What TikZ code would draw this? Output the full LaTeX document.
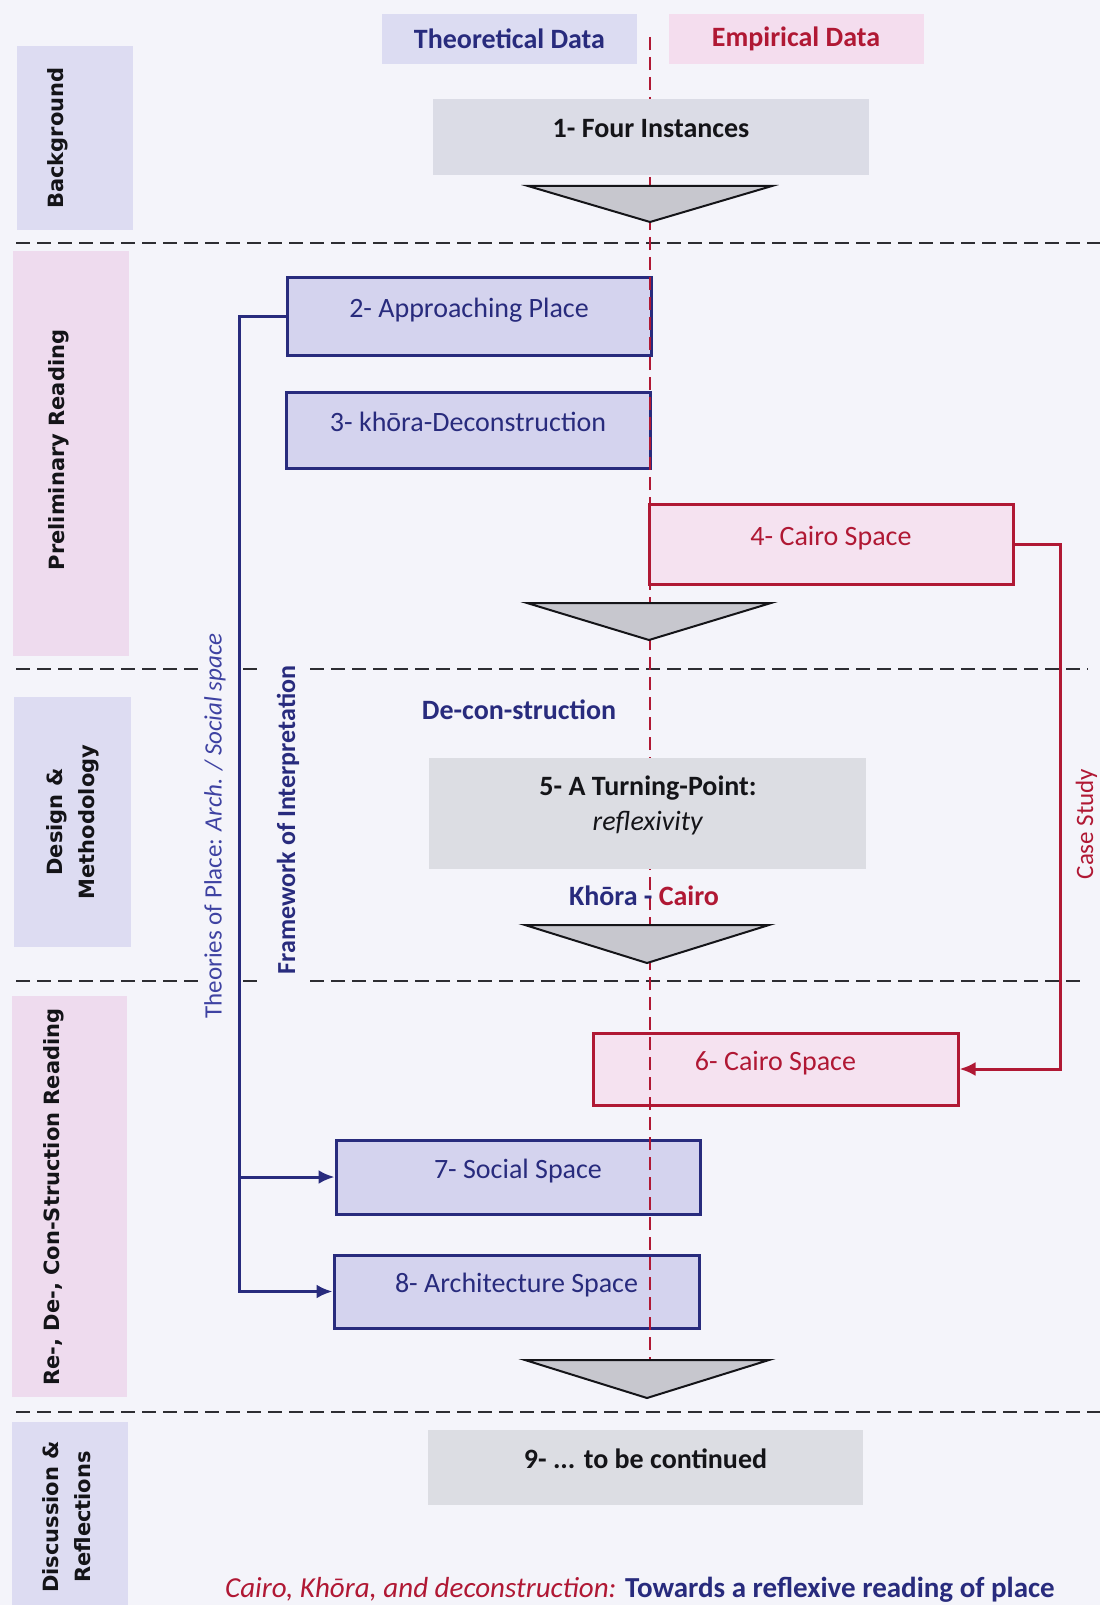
\documentclass[tikz,border=0pt]{standalone}
\usepackage{fontspec}
\setmainfont{Carlito}
\newfontfamily\labfont{DejaVu Sans}
\usetikzlibrary{arrows.meta}

\definecolor{pagebg}{RGB}{244,244,250}
\definecolor{lavsec}{RGB}{221,220,242}
\definecolor{pinksec}{RGB}{238,219,238}
\definecolor{navy}{RGB}{40,43,125}
\definecolor{midblue}{RGB}{62,66,162}
\definecolor{crim}{RGB}{176,24,52}
\definecolor{bluefill}{RGB}{212,211,238}
\definecolor{redfill}{RGB}{245,226,240}
\definecolor{grayfill}{RGB}{219,220,230}
\definecolor{grayfillb}{RGB}{220,221,227}
\definecolor{thfill}{RGB}{220,220,242}
\definecolor{emfill}{RGB}{244,221,238}
\definecolor{trifill}{RGB}{199,199,206}
\definecolor{sepgray}{RGB}{45,45,50}
\definecolor{ink}{RGB}{20,20,24}

\begin{document}
\begin{tikzpicture}[x=1pt,y=-1pt,
  nodefont/.style={font=\fontsize{28}{34}\selectfont},
  boxbase/.style={nodefont, inner sep=0pt, text height=14pt, text depth=12pt},
  bluebox/.style={boxbase, draw=navy, line width=3pt, fill=bluefill, text=navy, minimum width=364pt},
  redbox/.style={bluebox, draw=crim, fill=redfill, text=crim},
  graybox/.style={boxbase, fill=grayfill, text=ink, minimum width=436pt, font=\fontsize{28}{34}\selectfont\bfseries},
  databox/.style={inner sep=0pt, minimum width=255pt, minimum height=50pt, font=\fontsize{28}{34}\selectfont\bfseries},
  seclabel/.style={rotate=90, align=center, text=ink, font=\labfont\bfseries\fontsize{21}{32}\selectfont},
  tri/.style={fill=trifill, draw=ink, line width=2pt, line join=miter},
  sepline/.style={draw=sepgray, line width=2.5pt, dash pattern=on 14pt off 7pt},
  axisline/.style={draw=crim, line width=2pt, dash pattern=on 13pt off 7pt},
  bluelink/.style={draw=navy, line width=3pt},
  redlink/.style={draw=crim, line width=3pt},
  tip/.style={-{Latex[length=16pt,width=14pt]}}
]
\useasboundingbox (0,0) rectangle (1100,1605);
\clip (0,0) rectangle (1100,1605);
\fill[pagebg] (0,0) rectangle (1100,1605);

% phase bands on the left
\fill[lavsec]  (17,46)   rectangle (133,230);
\fill[pinksec] (13,251)  rectangle (129,656);
\fill[lavsec]  (14,697)  rectangle (131,947);
\fill[pinksec] (12,996)  rectangle (127,1397);
\fill[lavsec]  (12,1422) rectangle (128,1605);

\node[seclabel] (secA) at (58,138)  {Background};
\node[seclabel] (secB) at (59,450)  {Preliminary Reading};
\node[seclabel] (secC) at (73,822)  {Design \&\\Methodology};
\node[seclabel] (secD) at (54,1197) {Re-, De-, Con-Struction Reading};
\node[seclabel] (secE) at (67,1517) {Discussion \&\\Reflections};

% column headers
\node[databox, fill=thfill, text=navy] (theo) at (509.5,39) {Theoretical Data};
\node[databox, fill=emfill, text=crim] (emp)  at (796,39)   {Empirical Data};

% phase separators
\draw[sepline] (16,243) -- (1100,243);
\draw[sepline] (16,669) -- (199,669);
\draw[sepline] (243,669) -- (262,669);
\draw[sepline] (310,669) -- (1088,669);
\draw[sepline] (16,981) -- (199,981);
\draw[sepline] (243,981) -- (262,981);
\draw[sepline] (310,981) -- (1085,981);
\draw[sepline] (16,1412) -- (1100,1412);

% coloured steps
\node[bluebox, minimum height=78pt] (n2) at (469,316)    {2- Approaching Place};
\node[bluebox, minimum height=76pt] (n3) at (468,430)    {3- khōra-Deconstruction};
\node[redbox,  minimum height=80pt] (n4) at (831,544)    {4- Cairo Space};
\node[redbox,  minimum height=72pt, minimum width=365pt] (n6) at (775.5,1069) {6- Cairo Space};
\node[bluebox, minimum height=74pt] (n7) at (518,1177)   {7- Social Space};
\node[bluebox, minimum height=73pt, minimum width=365pt] (n8) at (516.5,1291.5) {8- Architecture Space};

% theory / empirical axis
\coordinate (axtop) at (650,37);
\coordinate (axbot) at (650,1360);
\draw[axisline] (axtop) -- (axbot);

% grey steps
\node[graybox, minimum height=76pt] (n1) at (651,137) {1- Four Instances};
\node[graybox, fill=grayfillb, minimum width=437pt, minimum height=111pt] (n5) at (647.5,813.5) {};
\node[align=center, text=ink, font=\fontsize{28}{35}\selectfont] (t5) at (648,805)
  {\textbf{5- A Turning-Point:}\\\textit{reflexivity}};
\node[graybox, fill=grayfillb, minimum width=435pt, minimum height=75pt] (n9) at (645.5,1467.5) {9- ... to be continued};

% flow triangles
\filldraw[tri] (528,186)  -- (772,186)  -- (650,222) -- cycle;
\filldraw[tri] (527,603)  -- (771,603)  -- (649,640) -- cycle;
\filldraw[tri] (525,925)  -- (769,925)  -- (647,963) -- cycle;
\filldraw[tri] (525,1360) -- (769,1360) -- (647,1398) -- cycle;

% in-between captions
\node[text=navy, font=\fontsize{28}{34}\selectfont\bfseries] (dcs) at (519,710) {De-con-struction};
\node[font=\fontsize{28}{34}\selectfont\bfseries] (kc) at (644,896)
  {\textcolor{navy}{Khōra -} \textcolor{crim}{Cairo}};

% theory framework connector
\coordinate (bx) at (239,0);
\draw[bluelink, tip] (n2.west) -- (n2.west -| bx) |- (n8.west);
\draw[bluelink, tip] (n7.west -| bx) -- (n7.west);
\node[rotate=90, text=midblue, font=\fontsize{25}{30}\selectfont] (thy) at (215,826)
  {Theories of Place: \textit{Arch. / Social space}};
\node[rotate=90, text=navy, font=\fontsize{26}{30}\selectfont\bfseries] (fw) at (288,820)
  {Framework of Interpretation};

% case study connector
\coordinate (rx) at (1060,0);
\draw[redlink, tip] (n4.east) -- (n4.east -| rx) |- (n6.east);
\node[rotate=90, anchor=base, text=crim, font=\fontsize{25}{28}\selectfont] (cs) at (1093,824) {Case Study};

% title line
\node[anchor=base, font=\fontsize{29}{34}\selectfont] (title) at (640,1597)
  {\textcolor{crim}{\itshape Cairo, Khōra, and deconstruction:} \textcolor{navy}{\bfseries Towards a reflexive reading of place}};
\end{tikzpicture}
\end{document}
